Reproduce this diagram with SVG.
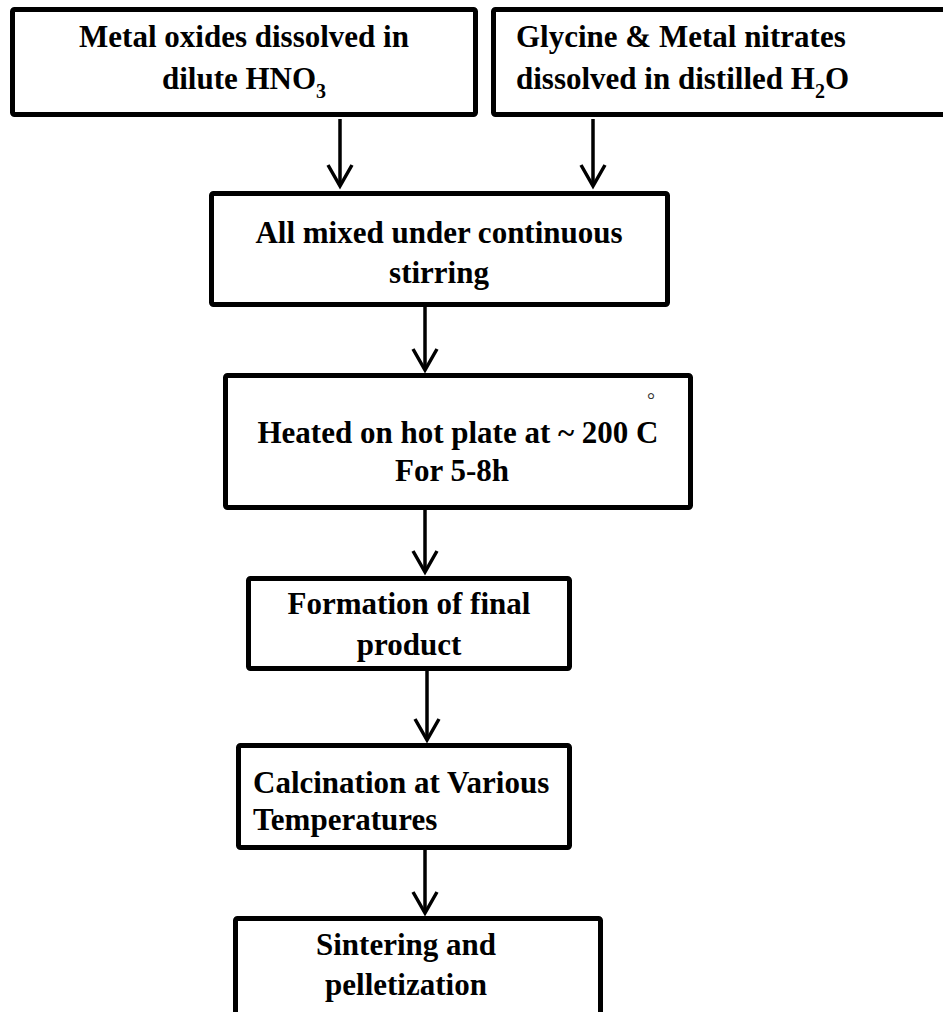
<svg xmlns="http://www.w3.org/2000/svg" width="943" height="1012" viewBox="0 0 943 1012">
<style>
.box{fill:#fff;stroke:#000;stroke-width:5;stroke-linejoin:round}
.t{font-family:"Liberation Serif","Times New Roman",serif;font-weight:bold;font-size:31px;fill:#000}
.c{text-anchor:middle}
.sub{font-size:20px}
.arr{stroke:#000;stroke-width:3.5;fill:none}
</style>
<defs>
<marker id="ah" markerUnits="userSpaceOnUse" markerWidth="30" markerHeight="30" refX="25" refY="15" orient="auto" viewBox="0 0 30 30">
<path d="M4,3 L25,15 L4,27" fill="none" stroke="#000" stroke-width="3.5"/>
</marker>
</defs>
<rect width="943" height="1012" fill="#fff"/>
<g id="connectors">
<line class="arr" x1="340" y1="119" x2="340" y2="186" marker-end="url(#ah)"/>
<line class="arr" x1="593" y1="119" x2="593" y2="186" marker-end="url(#ah)"/>
<line class="arr" x1="425" y1="307" x2="425" y2="370" marker-end="url(#ah)"/>
<line class="arr" x1="425" y1="510" x2="425" y2="572" marker-end="url(#ah)"/>
<line class="arr" x1="427" y1="671" x2="427" y2="740" marker-end="url(#ah)"/>
<line class="arr" x1="425" y1="850" x2="425" y2="913" marker-end="url(#ah)"/>
</g>
<g id="n1">
<rect class="box" x="12.5" y="9.5" width="463" height="105" rx="2"/>
<text class="t c" x="244" y="47">Metal oxides dissolved in</text>
<text class="t c" x="244" y="89">dilute HNO<tspan class="sub" dy="9">3</tspan></text>
</g>
<g id="n2">
<rect class="box" x="493.5" y="9.5" width="460" height="105" rx="2"/>
<text class="t" x="516" y="47">Glycine &amp; Metal nitrates</text>
<text class="t" x="516" y="89">dissolved in distilled H<tspan class="sub" dy="9">2</tspan><tspan dy="-9">O</tspan></text>
</g>
<g id="n3">
<rect class="box" x="211.5" y="193.5" width="456" height="111" rx="2"/>
<text class="t c" x="439" y="243">All mixed under continuous</text>
<text class="t c" x="439" y="283">stirring</text>
</g>
<g id="n4">
<rect class="box" x="225.5" y="375.5" width="465" height="132" rx="2"/>
<text class="t c" x="458" y="443">Heated on hot plate at ~ 200  C</text>
<text class="t c" x="452" y="481">For 5-8h</text>
<text x="651" y="407" font-family="Liberation Serif, serif" font-size="20" fill="#333" text-anchor="middle">°</text>
</g>
<g id="n5">
<rect class="box" x="248.5" y="578.5" width="321" height="90" rx="2"/>
<text class="t c" x="409" y="614">Formation of final</text>
<text class="t c" x="409" y="655">product</text>
</g>
<g id="n6">
<rect class="box" x="238.5" y="745.5" width="331" height="102" rx="2"/>
<text class="t" x="253" y="793">Calcination at Various</text>
<text class="t" x="253" y="830">Temperatures</text>
</g>
<g id="n7">
<rect class="box" x="235.5" y="918.5" width="365" height="100" rx="2"/>
<text class="t c" x="406" y="955">Sintering and</text>
<text class="t c" x="406" y="995">pelletization</text>
</g>
</svg>
